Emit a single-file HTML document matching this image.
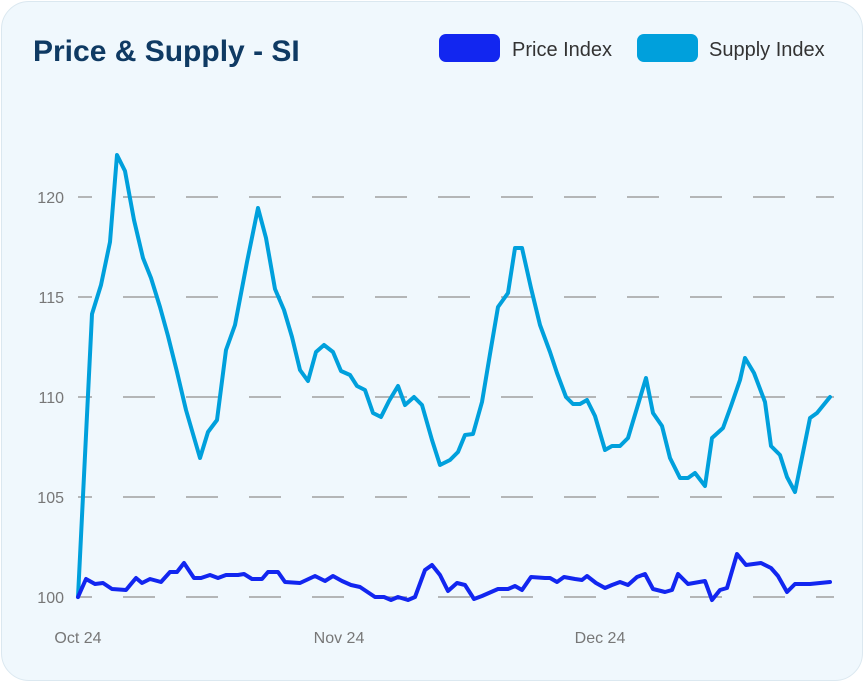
<!DOCTYPE html>
<html><head><meta charset="utf-8"><style>
html,body{margin:0;padding:0;background:#fff;}
body{width:864px;height:682px;overflow:hidden;font-family:"Liberation Sans",sans-serif;}
.card{position:absolute;left:1px;top:1px;width:860px;height:678px;border-radius:28px;background:#f0f8fd;border:1px solid #dbe8f0;}
</style></head><body>
<div class="card"></div>
<svg width="864" height="682" style="position:absolute;left:0;top:0">
<text x="33" y="61" font-size="30" font-weight="bold" fill="#0f3a63" font-family="Liberation Sans, sans-serif">Price &amp; Supply - SI</text>
<rect x="439" y="34" width="61" height="28" rx="7" fill="#1226f0"/>
<text x="512" y="56" font-size="20" fill="#333">Price Index</text>
<rect x="637" y="34" width="61" height="28" rx="7" fill="#00a0dc"/>
<text x="709" y="56" font-size="20" fill="#333">Supply Index</text>
<g stroke="#a0a0a0" stroke-width="1.6" stroke-dasharray="32,31" stroke-dashoffset="18">
<line x1="78" y1="197" x2="834" y2="197"/>
<line x1="78" y1="297" x2="834" y2="297"/>
<line x1="78" y1="397" x2="834" y2="397"/>
<line x1="78" y1="497" x2="834" y2="497"/>
<line x1="78" y1="597" x2="834" y2="597"/>
</g>
<g font-size="16" fill="#777" text-anchor="end">
<text x="64" y="203">120</text><text x="64" y="303">115</text><text x="64" y="403">110</text><text x="64" y="503">105</text><text x="64" y="603">100</text>
</g>
<g font-size="16" fill="#777" text-anchor="middle">
<text x="78" y="643">Oct 24</text><text x="339" y="643">Nov 24</text><text x="600" y="643">Dec 24</text>
</g>
<polyline fill="none" stroke="#00a0dc" stroke-width="4" stroke-linejoin="round" stroke-linecap="round" points="78,597 92,314 101,285 110,242 117,155 125,171 134,220 143,258 151,278 160,307 168,336 177,372 186,410 200,458 208,432 217,420 226,350 235,325 247,262 258,208 266,238 275,289 284,310 292,337 300,370 308,381 316,352 324,345 333,352 341,371 350,375 357,386 365,390 373,413 381,417 389,401 398,386 405,405 414,397 422,405 432,440 440,465 450,460 458,452 465,435 473,434 482,402 490,354 498,307 508,293 515,248 522,248 531,288 540,325 550,352 557,373 566,397 573,404 580,404 587,400 595,416 605,450 612,446 620,446 628,438 637,408 646,378 653,413 662,426 670,458 680,478 688,478 695,473 705,486 712,438 723,428 731,406 740,380 745,358 754,373 765,402 771,446 780,455 787,477 795,492 810,418 817,413 830,397"/>
<polyline fill="none" stroke="#1226f0" stroke-width="4" stroke-linejoin="round" stroke-linecap="round" points="78,597 86,579 95,584 103,583 112,589 126,590 136,578 142,583 150,579 161,582 170,572 177,572 184,563 194,578 201,578 210,575 218,578 226,575 238,575 244,574 252,579 262,579 268,572 278,572 285,582 300,583 315,576 325,581 333,576 342,581 351,585 360,587 375,597 384,597 391,600 398,597 408,600 415,597 425,570 432,565 440,575 448,591 457,583 465,585 474,599 482,596 498,589 508,589 515,586 522,590 531,577 545,578 550,578 557,582 564,577 575,579 582,580 587,576 596,583 605,588 612,585 620,582 628,585 637,577 645,574 653,589 665,592 672,590 678,574 688,584 705,581 712,600 720,590 727,588 737,554 746,565 761,563 771,568 778,576 787,592 795,584 810,584 830,582"/>
</svg>
</body></html>
